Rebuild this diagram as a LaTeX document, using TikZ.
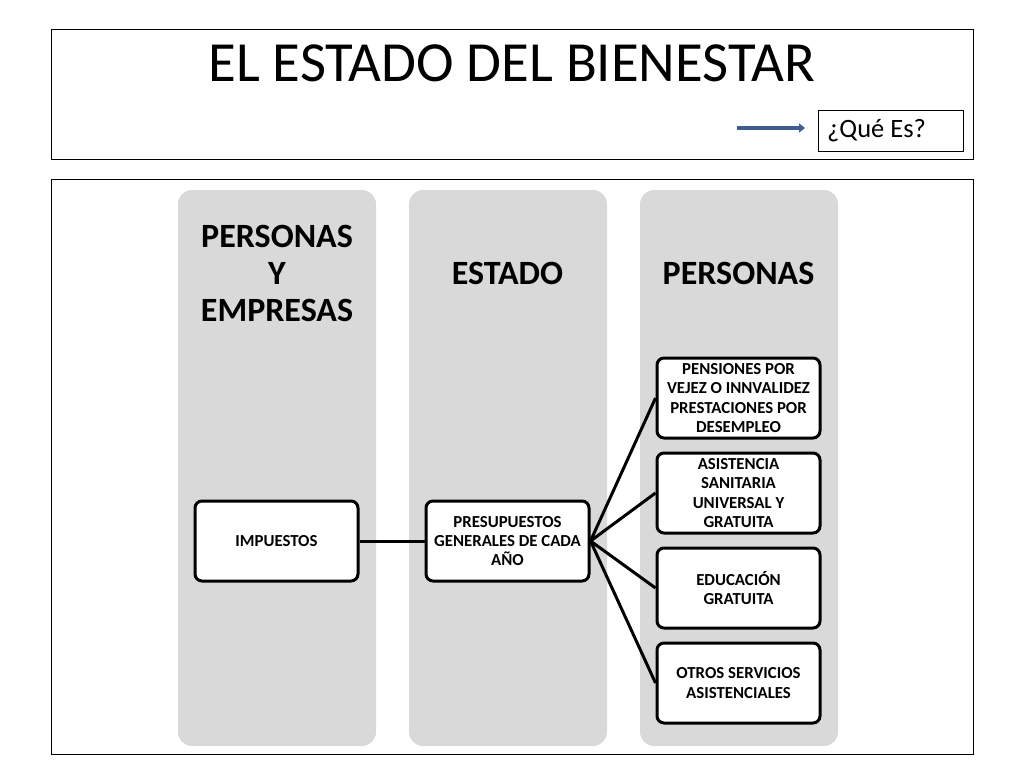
\documentclass[tikz,border=0pt]{standalone}
\usepackage{fontspec}
\setmainfont{Carlito}
\usetikzlibrary{arrows.meta}
\definecolor{colgray}{RGB}{217,217,217}
\definecolor{arrowblue}{RGB}{62,94,142}
\tikzset{
	column/.style={fill=colgray, rounded corners=14pt},
	header/.style={align=center, font=\bfseries\fontsize{34}{37}\selectfont},
	itembox/.style={draw, line width=3pt, rounded corners=7pt, fill=white, minimum width=163pt, minimum height=80pt, align=center, inner sep=0pt, font=\bfseries\fontsize{16.8}{19.3}\selectfont},
	link/.style={line width=3pt}
}
\begin{document}
\begin{tikzpicture}[x=1pt,y=-1pt]
		\useasboundingbox (0,0) rectangle (1024,768);
		% Draw the two frames
		\draw [line width=1pt] (51,30) rectangle (973,159);
		\draw [line width=1pt] (51,179) rectangle (973,754);
		\node (title) at (512,63) {\fontsize{56.7}{60}\selectfont EL ESTADO DEL BIENESTAR};
		\node [draw, line width=1pt, minimum width=145pt, minimum height=41pt] (que) at (890.5,130.5) {};
		\node [anchor=west, inner sep=0pt, font=\fontsize{26.5}{30}\selectfont] (quetext) at (827,130.5) {¿Qué Es?};
		\coordinate (arrowstart) at (737,128);
		\coordinate (arrowend) at (805,128);
		\draw [arrowblue, line width=4pt, -{Triangle[length=6pt,width=9pt]}] (arrowstart) -- (arrowend);
		% Draw the gray columns
		\foreach \x in {178, 409, 640}
			\fill [column] (\x,190) rectangle ++(198,556);
		\node [header] (hpersonasempresas) at (277,273) {PERSONAS\\Y\\EMPRESAS};
		\node [header] (hestado) at (507.5,273) {ESTADO};
		\node [header] (hpersonas) at (738.5,273) {PERSONAS};
		% Boxes
		\node [itembox] (impuestos) at (276.5,541) {IMPUESTOS};
		\node [itembox] (presupuestos) at (507.5,541) {PRESUPUESTOS\\GENERALES DE CADA\\AÑO};
		\node [itembox] (pensiones) at (738.5,398) {PENSIONES POR\\VEJEZ O INNVALIDEZ\\PRESTACIONES POR\\DESEMPLEO};
		\node [itembox] (asistencia) at (738.5,493) {ASISTENCIA\\SANITARIA\\UNIVERSAL Y\\GRATUITA};
		\node [itembox] (educacion) at (738.5,588) {EDUCACIÓN\\GRATUITA};
		\node [itembox] (otros) at (738.5,683) {OTROS SERVICIOS\\ASISTENCIALES};
		% Connectors
		\draw [link] (impuestos) -- (presupuestos);
		\foreach \n in {pensiones, asistencia, educacion, otros}
			\draw [link] (presupuestos.east) -- (\n.west);
\end{tikzpicture}
\end{document}
